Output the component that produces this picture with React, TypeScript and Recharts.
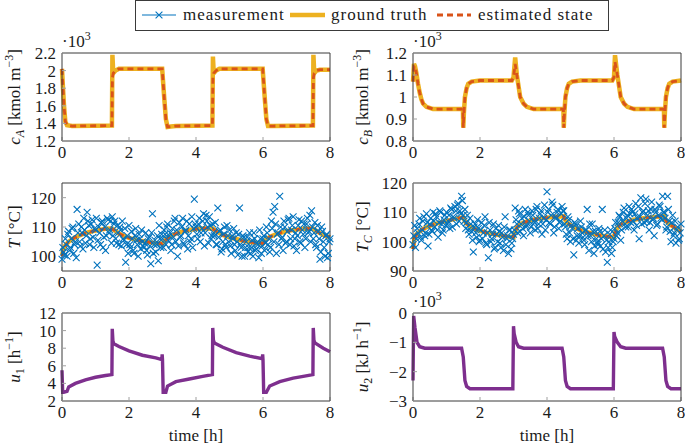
import React from 'react';
import { LineChart, Line, XAxis, YAxis } from 'recharts';

const BLUE = '#0072BD';
const GOLD = '#EDB120';
const RED = '#D95319';
const PURPLE = '#7E2F8E';
const INK = '#1a1a1a';
const FONT = "'Liberation Serif', 'Times New Roman', Times, serif";

const xTicks = [0, 2, 4, 6, 8];

// measurement grid [h]
const measTime = [
  0, 0.05, 0.1, 0.15, 0.2, 0.25, 0.3, 0.35, 0.4, 0.45,
  0.5, 0.55, 0.6, 0.65, 0.7, 0.75, 0.8, 0.85, 0.9, 0.95,
  1, 1.05, 1.1, 1.15, 1.2, 1.25, 1.3, 1.35, 1.4, 1.45,
  1.5, 1.55, 1.6, 1.65, 1.7, 1.75, 1.8, 1.85, 1.9, 1.95,
  2, 2.05, 2.1, 2.15, 2.2, 2.25, 2.3, 2.35, 2.4, 2.45,
  2.5, 2.55, 2.6, 2.65, 2.7, 2.75, 2.8, 2.85, 2.9, 2.95,
  3, 3.05, 3.1, 3.15, 3.2, 3.25, 3.3, 3.35, 3.4, 3.45,
  3.5, 3.55, 3.6, 3.65, 3.7, 3.75, 3.8, 3.85, 3.9, 3.95,
  4, 4.05, 4.1, 4.15, 4.2, 4.25, 4.3, 4.35, 4.4, 4.45,
  4.5, 4.55, 4.6, 4.65, 4.7, 4.75, 4.8, 4.85, 4.9, 4.95,
  5, 5.05, 5.1, 5.15, 5.2, 5.25, 5.3, 5.35, 5.4, 5.45,
  5.5, 5.55, 5.6, 5.65, 5.7, 5.75, 5.8, 5.85, 5.9, 5.95,
  6, 6.05, 6.1, 6.15, 6.2, 6.25, 6.3, 6.35, 6.4, 6.45,
  6.5, 6.55, 6.6, 6.65, 6.7, 6.75, 6.8, 6.85, 6.9, 6.95,
  7, 7.05, 7.1, 7.15, 7.2, 7.25, 7.3, 7.35, 7.4, 7.45,
  7.5, 7.55, 7.6, 7.65, 7.7, 7.75, 7.8, 7.85, 7.9, 7.95,
  8,
];

// in-between samples [h]
const measTime2 = [
  0.025, 0.075, 0.125, 0.175, 0.225, 0.275, 0.325, 0.375, 0.425, 0.475,
  0.525, 0.575, 0.625, 0.675, 0.725, 0.775, 0.825, 0.875, 0.925, 0.975,
  1.025, 1.075, 1.125, 1.175, 1.225, 1.275, 1.325, 1.375, 1.425, 1.475,
  1.525, 1.575, 1.625, 1.675, 1.725, 1.775, 1.825, 1.875, 1.925, 1.975,
  2.025, 2.075, 2.125, 2.175, 2.225, 2.275, 2.325, 2.375, 2.425, 2.475,
  2.525, 2.575, 2.625, 2.675, 2.725, 2.775, 2.825, 2.875, 2.925, 2.975,
  3.025, 3.075, 3.125, 3.175, 3.225, 3.275, 3.325, 3.375, 3.425, 3.475,
  3.525, 3.575, 3.625, 3.675, 3.725, 3.775, 3.825, 3.875, 3.925, 3.975,
  4.025, 4.075, 4.125, 4.175, 4.225, 4.275, 4.325, 4.375, 4.425, 4.475,
  4.525, 4.575, 4.625, 4.675, 4.725, 4.775, 4.825, 4.875, 4.925, 4.975,
  5.025, 5.075, 5.125, 5.175, 5.225, 5.275, 5.325, 5.375, 5.425, 5.475,
  5.525, 5.575, 5.625, 5.675, 5.725, 5.775, 5.825, 5.875, 5.925, 5.975,
  6.025, 6.075, 6.125, 6.175, 6.225, 6.275, 6.325, 6.375, 6.425, 6.475,
  6.525, 6.575, 6.625, 6.675, 6.725, 6.775, 6.825, 6.875, 6.925, 6.975,
  7.025, 7.075, 7.125, 7.175, 7.225, 7.275, 7.325, 7.375, 7.425, 7.475,
  7.525, 7.575, 7.625, 7.675, 7.725, 7.775, 7.825, 7.875, 7.925, 7.975,
];

const measT = [
  99, 101.5, 106, 100, 108.5, 103, 109.5, 101, 105, 116,
  111, 103.5, 108, 113, 104.5, 115, 110.5, 106, 112.5, 103,
  109, 97, 110, 104, 112, 106.5, 102, 113, 108, 112,
  113.5, 111, 106, 110.5, 104, 109, 112, 105.5, 98, 107,
  110.5, 103, 106, 101, 109.5, 104, 107.5, 102.5, 105, 103,
  108, 100.5, 106.5, 97.5, 114.5, 104, 101.5, 107, 110.5, 103,
  106, 109, 104, 111, 107, 102, 109.5, 112, 105, 100,
  111.5, 107, 113, 104, 109, 102.5, 111, 106, 103, 119.5,
  110, 106, 113, 108, 112, 103.5, 114, 110, 113.5, 106,
  111, 107, 104, 116.5, 108.5, 101.5, 105, 110, 103, 107,
  109, 101, 106, 104, 108, 100.5, 116.5, 103, 107, 100,
  105, 101.5, 108, 103, 100, 106, 102.5, 104, 109, 101,
  106, 102, 110, 104, 101.5, 112, 115, 117, 101, 108,
  120.5, 106, 102, 110, 105, 112.5, 104, 109, 113.5, 106,
  102, 110.5, 105, 112, 107.5, 103, 111, 108, 114, 115.5,
  106, 111.5, 103, 108.5, 99, 110, 105, 100, 107.5, 101,
  106,
];

const measT2 = [
  103, 100.5, 104, 107.5, 102, 106, 110, 104, 99.5, 108,
  105, 110, 102.5, 109, 107, 112, 104, 111, 106.5, 109.5,
  113, 105.5, 108, 111.5, 103, 110, 107, 112.5, 109, 104.5,
  107, 112, 104.5, 108, 110, 103.5, 106, 109.5, 104, 101,
  104, 108.5, 102, 107, 105.5, 100, 106, 109, 103.5, 104.5,
  102, 106, 103.5, 108, 101, 105.5, 104, 98.5, 106, 107.5,
  103, 107.5, 110, 105.5, 108, 104, 106.5, 113, 109, 103.5,
  106.5, 110, 104.5, 108.5, 112, 107, 105, 113.5, 109.5, 111,
  107.5, 111, 105, 109.5, 114.5, 108, 112, 104.5, 110.5, 107,
  108, 111.5, 104, 106.5, 109, 102.5, 107.5, 104, 110.5, 105,
  103.5, 107, 109.5, 102, 105, 107.5, 104, 100, 106.5, 103,
  106.5, 103, 101, 105.5, 108, 102, 104.5, 99.5, 106, 103.5,
  107, 104.5, 108, 106, 103, 109.5, 105, 111, 107.5, 104,
  110, 106.5, 112, 104.5, 108.5, 113, 106, 110.5, 103.5, 108,
  107, 112.5, 104.5, 109, 111, 106, 113, 108.5, 105, 110,
  108, 104, 110.5, 106, 101.5, 108.5, 103, 107, 99.5, 105,
];

const measTC = [
  99, 105.5, 101, 103, 108, 100.5, 107, 102, 109.5, 98.5,
  106, 104, 110, 105, 108.5, 101.5, 110.5, 106, 104, 109,
  110, 107, 104.5, 111, 108.5, 112, 106, 113, 110.5, 115.5,
  109, 111, 106.5, 104, 108, 103.5, 96.5, 106, 101.5, 104.5,
  100.5, 106.5, 103, 108.5, 99, 94.5, 104, 101, 106, 98,
  102.5, 105.5, 99.5, 103, 97, 108.5, 101, 96, 104, 99.5,
  102.5, 111.5, 106, 110.5, 103.5, 108, 102, 111, 105.5, 109,
  103, 110.5, 107, 104, 112, 106, 109.5, 102.5, 108, 104,
  117, 111, 106, 113.5, 103, 108.5, 110, 104.5, 107, 112,
  110.5, 105, 101, 107.5, 100, 104.5, 95.5, 106, 102, 99.5,
  107, 103, 100.5, 104, 111, 97, 102, 106, 96, 103.5,
  100, 104.5, 98.5, 111, 102, 96.5, 93, 100, 104, 98,
  101, 106.5, 103, 109, 100.5, 107, 111.5, 105, 109, 112,
  106.5, 110, 104, 113, 108, 101, 115, 110, 106.5, 114.5,
  109, 104, 111, 107.5, 102, 110, 106, 112.5, 108, 115.5,
  110, 104, 115.5, 107, 100, 109, 103, 99.5, 105, 101,
  106,
];

const measTC2 = [
  102, 98, 104.5, 106, 101.5, 104, 108.5, 103, 106.5, 102.5,
  108, 103.5, 107, 109.5, 104, 106.5, 110, 103, 107.5, 105.5,
  106, 109, 111.5, 105, 108, 110.5, 112.5, 107, 109.5, 114,
  107, 104.5, 109, 102.5, 106, 100.5, 105, 103, 107.5, 100,
  104, 101, 105.5, 99.5, 103, 106.5, 100, 102.5, 97.5, 104.5,
  100, 103.5, 98, 101.5, 105, 99, 102, 104, 97.5, 101,
  104, 107.5, 103, 109.5, 106, 104.5, 108.5, 105, 110, 107,
  105, 109, 106.5, 111, 104.5, 108, 110.5, 106, 112.5, 107.5,
  110, 106.5, 109, 112.5, 105, 108, 111, 106.5, 109.5, 110.5,
  106, 102.5, 108.5, 103, 105.5, 101, 106.5, 100.5, 104.5, 102,
  105, 101.5, 99, 104, 102, 106, 100, 103.5, 98.5, 101,
  99, 103.5, 101, 97.5, 104, 100.5, 98, 102.5, 96, 100,
  104.5, 102, 106.5, 108.5, 104, 110, 106, 108, 105, 109.5,
  111, 107, 109.5, 105.5, 112, 108.5, 106, 110.5, 113, 107,
  110.5, 106.5, 113.5, 108, 111, 105.5, 109, 112, 107.5, 110,
  108, 105, 111, 103.5, 106.5, 102, 107, 104, 100.5, 103,
];

// c_A  (x10^3 kmol/m3)
const cATime = [0, 0.03, 0.06, 0.1, 0.15, 0.3, 1.49, 1.505, 1.53, 1.6, 1.7, 2.99, 3.05, 3.1, 3.15, 3.25, 3.4, 4.49, 4.505, 4.53, 4.6, 4.7, 5.99, 6.05, 6.1, 6.15, 6.3, 7.49, 7.505, 7.53, 7.6, 7.7, 8];
const cATruth = [2.02, 1.8, 1.6, 1.42, 1.38, 1.37, 1.375, 2.18, 1.97, 2.0, 2.02, 2.02, 1.7, 1.45, 1.36, 1.365, 1.37, 1.375, 2.16, 1.97, 2.0, 2.02, 2.02, 1.7, 1.45, 1.37, 1.37, 1.375, 2.18, 1.97, 2.0, 2.01, 2.01];
const cAEst = [2.02, 1.8, 1.6, 1.42, 1.38, 1.37, 1.375, 1.92, 1.97, 2.0, 2.02, 2.02, 1.7, 1.45, 1.36, 1.365, 1.37, 1.375, 1.92, 1.97, 2.0, 2.02, 2.02, 1.7, 1.45, 1.37, 1.37, 1.375, 1.92, 1.97, 2.0, 2.01, 2.01];

// c_B  (x10^3 kmol/m3)
const cBTime = [0, 0.03, 0.06, 0.1, 0.15, 0.2, 0.25, 0.3, 0.4, 0.6, 1.49, 1.5, 1.52, 1.55, 1.6, 1.65, 1.75, 2.0, 2.95, 3.0, 3.05, 3.1, 3.15, 3.2, 3.3, 3.4, 3.6, 4.49, 4.5, 4.52, 4.55, 4.6, 4.65, 4.75, 5.0, 5.95, 6.0, 6.03, 6.1, 6.15, 6.2, 6.3, 6.4, 6.6, 7.49, 7.5, 7.52, 7.55, 7.6, 7.65, 7.75, 8];
const cBTruth = [1.07, 1.15, 1.14, 1.11, 1.06, 1.02, 0.99, 0.97, 0.955, 0.945, 0.945, 0.86, 0.93, 1.0, 1.04, 1.06, 1.07, 1.075, 1.075, 1.09, 1.18, 1.1, 1.05, 1.0, 0.97, 0.955, 0.945, 0.945, 0.86, 0.93, 1.0, 1.04, 1.06, 1.07, 1.075, 1.075, 1.09, 1.19, 1.1, 1.05, 1.0, 0.97, 0.955, 0.945, 0.945, 0.86, 0.93, 1.0, 1.04, 1.06, 1.07, 1.075];
const cBEst = [1.07, 1.14, 1.14, 1.11, 1.06, 1.02, 0.99, 0.97, 0.955, 0.945, 0.945, 0.86, 0.93, 1.0, 1.04, 1.06, 1.07, 1.075, 1.075, 1.09, 1.15, 1.1, 1.05, 1.0, 0.97, 0.955, 0.945, 0.945, 0.86, 0.93, 1.0, 1.04, 1.06, 1.07, 1.075, 1.075, 1.09, 1.16, 1.1, 1.05, 1.0, 0.97, 0.955, 0.945, 0.945, 0.86, 0.93, 1.0, 1.04, 1.06, 1.07, 1.075];

// T  [°C]
const TTime = [0, 0.05, 0.1, 0.2, 0.3, 0.4, 0.5, 0.6, 0.7, 0.8, 0.9, 1.0, 1.1, 1.2, 1.3, 1.4, 1.5, 1.6, 1.7, 1.8, 1.9, 2.0, 2.2, 2.4, 2.6, 2.8, 3.0, 3.1, 3.2, 3.3, 3.4, 3.6, 3.8, 4.0, 4.2, 4.4, 4.5, 4.6, 4.7, 4.8, 5.0, 5.2, 5.4, 5.6, 5.8, 6.0, 6.1, 6.2, 6.4, 6.6, 6.8, 7.0, 7.2, 7.4, 7.5, 7.6, 7.7, 7.8, 8.0];
const TTruth = [100.5, 102.5, 103.8, 105, 105.8, 106.5, 107, 107.5, 107.9, 108.2, 108.5, 108.8, 109, 109.2, 109.4, 109.5, 109.4, 108.6, 107.8, 107.2, 106.7, 106.3, 105.7, 105.2, 104.8, 104.5, 104.3, 105.8, 106.6, 107.2, 107.7, 108.5, 109, 109.3, 109.5, 109.6, 109.5, 108.6, 107.9, 107.3, 106.5, 105.9, 105.3, 104.9, 104.6, 104.4, 105.8, 106.6, 107.6, 108.3, 108.8, 109.1, 109.4, 109.5, 109.4, 108.6, 107.9, 107.3, 106.5];
const TEst = [100, 102, 103.6, 105.1, 105.9, 106.5, 107.1, 107.5, 107.9, 108.2, 108.5, 108.8, 109, 109.2, 109.4, 109.5, 109.3, 108.6, 107.8, 107.2, 106.7, 106.3, 105.7, 105.2, 104.8, 104.5, 104.3, 105.6, 106.6, 107.2, 107.7, 108.5, 109, 109.3, 109.5, 109.6, 109.4, 108.6, 107.9, 107.3, 106.5, 105.9, 105.3, 104.9, 104.6, 104.4, 105.6, 106.6, 107.6, 108.3, 108.8, 109.1, 109.4, 109.5, 109.3, 108.6, 107.9, 107.3, 106.5];

// T_C  [°C]
const TCTime = [0, 0.05, 0.1, 0.2, 0.3, 0.4, 0.5, 0.6, 0.8, 1.0, 1.2, 1.4, 1.5, 1.55, 1.6, 1.7, 1.8, 2.0, 2.2, 2.4, 2.6, 2.8, 3.0, 3.03, 3.1, 3.2, 3.3, 3.5, 3.7, 4.0, 4.2, 4.4, 4.5, 4.55, 4.6, 4.7, 4.8, 5.0, 5.2, 5.4, 5.6, 5.8, 6.0, 6.03, 6.1, 6.2, 6.3, 6.5, 6.7, 7.0, 7.2, 7.4, 7.5, 7.55, 7.6, 7.7, 7.8, 8.0];
const TCTruth = [97.5, 101.5, 102.5, 103.5, 104.3, 104.9, 105.4, 105.8, 106.5, 107.1, 107.6, 108.1, 108.3, 107, 106.2, 105.3, 104.6, 103.7, 103.1, 102.6, 102.2, 101.8, 101.5, 103, 104.8, 105.9, 106.5, 107.2, 107.7, 108.2, 108.4, 108.6, 108.7, 107.3, 106.5, 105.6, 104.9, 103.9, 103.2, 102.6, 102.1, 101.8, 101.5, 103, 104.8, 105.9, 106.5, 107.2, 107.7, 108.2, 108.4, 108.6, 108.7, 107.3, 106.5, 105.6, 104.9, 103.4];
const TCEst = [97.5, 101, 102.4, 103.5, 104.3, 104.9, 105.4, 105.8, 106.5, 107.1, 107.6, 108.1, 108.3, 107.1, 106.2, 105.3, 104.6, 103.7, 103.1, 102.6, 102.2, 101.8, 101.5, 102.8, 104.8, 105.9, 106.5, 107.2, 107.7, 108.2, 108.4, 108.6, 108.7, 107.2, 106.5, 105.6, 104.9, 103.9, 103.2, 102.6, 102.1, 101.8, 101.5, 102.8, 104.8, 105.9, 106.5, 107.2, 107.7, 108.2, 108.4, 108.6, 108.7, 107.2, 106.5, 105.6, 104.9, 103.4];

// u_1 [1/h]
const u1Time = [0, 0.02, 0.05, 0.15, 0.2, 0.4, 0.7, 1.0, 1.3, 1.49, 1.5, 1.52, 1.55, 1.7, 2.0, 2.4, 2.8, 2.98, 2.99, 3.0, 3.02, 3.1, 3.15, 3.4, 3.8, 4.2, 4.49, 4.5, 4.52, 4.55, 4.8, 5.2, 5.6, 5.98, 5.99, 6.0, 6.02, 6.1, 6.2, 6.5, 6.9, 7.2, 7.49, 7.5, 7.52, 7.55, 7.8, 8];
const u1Val = [5.5, 3.0, 3.0, 3.1, 3.6, 4.0, 4.4, 4.7, 4.9, 5.0, 10.2, 8.8, 8.5, 8.2, 7.7, 7.2, 6.9, 6.7, 7.3, 6.7, 3.0, 3.0, 3.7, 4.2, 4.5, 4.8, 5.0, 10.3, 8.9, 8.6, 8.1, 7.5, 7.1, 6.8, 7.3, 6.7, 3.0, 3.0, 3.7, 4.2, 4.6, 4.8, 5.0, 10.3, 8.9, 8.6, 8.0, 7.6];

// u_2 (x10^3 kJ/h)
const u2Time = [0, 0.02, 0.06, 0.12, 0.2, 0.35, 1.45, 1.5, 1.55, 1.6, 1.7, 2.98, 3.0, 3.02, 3.08, 3.15, 3.3, 4.45, 4.5, 4.55, 4.6, 4.7, 5.98, 6.0, 6.02, 6.1, 6.2, 6.35, 7.45, 7.5, 7.55, 7.6, 7.7, 8];
const u2Val = [-2.3, -0.1, -0.5, -1.0, -1.15, -1.2, -1.2, -1.5, -2.3, -2.5, -2.58, -2.58, -0.45, -0.7, -1.0, -1.15, -1.2, -1.2, -1.5, -2.3, -2.5, -2.58, -2.58, -0.65, -0.8, -1.0, -1.15, -1.2, -1.2, -1.5, -2.3, -2.5, -2.58, -2.58];

const pts = (t: number[], v: number[]) => t.map((x, i) => ({ t: x, v: v[i] }));

const ML = 60, MT = 8, MR = 12, MB = 30;
const PW = 268, PH = 88;
const COL = [62, 413];
const ROW = [53, 183, 313];

const axisLine = { stroke: '#3a3a3a', strokeWidth: 1 };
const tickLine = { stroke: '#a0a0a0', strokeWidth: 1 };
const tickStyle = { fill: INK, fontSize: 17, fontFamily: FONT };
const fmt = (v: number) => String(v).replace('-', '\u2212');

const renderX = (p: any) => {
  const { cx, cy, index } = p;
  if (cx == null || cy == null) return <g key={`m${index}`} />;
  const s = 3.4;
  return (
    <path
      key={`m${index}`}
      d={`M${cx - s},${cy - s}L${cx + s},${cy + s}M${cx - s},${cy + s}L${cx + s},${cy - s}`}
      stroke={BLUE}
      strokeWidth={1.1}
      fill="none"
    />
  );
};

const Panel = ({ col, row, yDomain, yTicks, children }: any) => (
  <div style={{ position: 'absolute', left: COL[col] - ML, top: ROW[row] - MT }}>
    <LineChart width={PW + ML + MR} height={PH + MT + MB} margin={{ top: MT, right: MR, bottom: 0, left: 0 }}>
      <XAxis dataKey="t" type="number" domain={[0, 8]} ticks={xTicks} interval={0} height={MB}
        axisLine={axisLine} tickLine={tickLine} tickSize={-4} tickMargin={9} tick={tickStyle} />
      <XAxis xAxisId="top" orientation="top" type="number" domain={[0, 8]} ticks={xTicks} interval={0}
        mirror tick={false} tickSize={4} axisLine={axisLine} tickLine={tickLine} />
      <YAxis type="number" domain={yDomain} ticks={yTicks} interval={0} width={ML} allowDataOverflow
        axisLine={axisLine} tickLine={tickLine} tickSize={-4} tickMargin={10} tick={tickStyle} tickFormatter={fmt} />
      <YAxis yAxisId="right" orientation="right" type="number" domain={yDomain} ticks={yTicks} interval={0}
        mirror tick={false} tickSize={4} axisLine={axisLine} tickLine={tickLine} />
      {children}
    </LineChart>
  </div>
);

const stateLines = (truth: any[], est: any[]) => [
  <Line key="gt" data={truth} dataKey="v" type="linear" stroke={GOLD} strokeWidth={4.5} dot={false} activeDot={false} isAnimationActive={false} />,
  <Line key="es" data={est} dataKey="v" type="linear" stroke={RED} strokeWidth={2.8} strokeDasharray="6 4" dot={false} activeDot={false} isAnimationActive={false} />,
];

const measLine = (data: any[]) => (
  <Line key="ms" data={data} dataKey="v" type="linear" stroke="none" dot={renderX} activeDot={false} isAnimationActive={false} />
);

const YLabel = ({ x, cy, children }: any) => (
  <text transform={`translate(${x},${cy}) rotate(-90)`} textAnchor="middle" fontSize={17} fill={INK}>
    {children}
  </text>
);

const Exp = ({ x, y }: any) => (
  <text x={x} y={y} fontSize={17} fill={INK}>
    {'\u00b710'}
    <tspan dy={-7} fontSize={12}>3</tspan>
  </text>
);

export default function App() {
  const mid = (r: number) => ROW[r] + PH / 2;
  const allTime = measTime.concat(measTime2);
  return (
    <div style={{ position: 'absolute', left: 0, top: 0, width: 685, height: 445, background: '#fff', fontFamily: FONT }}>
      <Panel col={0} row={0} yDomain={[1.2, 2.2]} yTicks={[1.2, 1.4, 1.6, 1.8, 2, 2.2]}>
        {stateLines(pts(cATime, cATruth), pts(cATime, cAEst))}
      </Panel>
      <Panel col={1} row={0} yDomain={[0.8, 1.2]} yTicks={[0.8, 0.9, 1, 1.1, 1.2]}>
        {stateLines(pts(cBTime, cBTruth), pts(cBTime, cBEst))}
      </Panel>
      <Panel col={0} row={1} yDomain={[95, 125]} yTicks={[100, 110, 120]}>
        {measLine(pts(allTime, measT.concat(measT2)))}
        {stateLines(pts(TTime, TTruth), pts(TTime, TEst))}
      </Panel>
      <Panel col={1} row={1} yDomain={[90, 120]} yTicks={[90, 100, 110, 120]}>
        {measLine(pts(allTime, measTC.concat(measTC2)))}
        {stateLines(pts(TCTime, TCTruth), pts(TCTime, TCEst))}
      </Panel>
      <Panel col={0} row={2} yDomain={[2, 12]} yTicks={[2, 4, 6, 8, 10, 12]}>
        <Line data={pts(u1Time, u1Val)} dataKey="v" type="linear" stroke={PURPLE} strokeWidth={3.4} dot={false} activeDot={false} isAnimationActive={false} />
      </Panel>
      <Panel col={1} row={2} yDomain={[-3, 0]} yTicks={[-3, -2, -1, 0]}>
        <Line data={pts(u2Time, u2Val)} dataKey="v" type="linear" stroke={PURPLE} strokeWidth={3.4} dot={false} activeDot={false} isAnimationActive={false} />
      </Panel>

      <svg width={685} height={445} style={{ position: 'absolute', left: 0, top: 0, pointerEvents: 'none' }} fontFamily={FONT}>
        {/* legend */}
        <rect x={135.5} y={0.5} width={473} height={30} fill="#fff" stroke="#3a3a3a" />
        <line x1={142} y1={15} x2={176} y2={15} stroke={BLUE} strokeWidth={1.1} />
        <path d="M155.6,11.6L162.4,18.4M155.6,18.4L162.4,11.6" stroke={BLUE} strokeWidth={1.1} />
        <text x={183} y={20} fontSize={17} fill={INK} letterSpacing={1}>measurement</text>
        <line x1={290} y1={15} x2={325} y2={15} stroke={GOLD} strokeWidth={4.5} />
        <text x={331} y={20} fontSize={17} fill={INK} letterSpacing={1}>ground truth</text>
        <line x1={437} y1={15} x2={471} y2={15} stroke={RED} strokeWidth={2.8} strokeDasharray="6 4" />
        <text x={478} y={20} fontSize={17} fill={INK} letterSpacing={1}>estimated state</text>

        {/* exponent markers */}
        <Exp x={62} y={47} />
        <Exp x={413} y={47} />
        <Exp x={413} y={307} />

        {/* y-axis titles */}
        <YLabel x={20} cy={mid(0)}>
          <tspan fontStyle="italic">c</tspan>
          <tspan dy={4} fontSize={12} fontStyle="italic">A</tspan>
          <tspan dy={-4}> [kmol m</tspan>
          <tspan dy={-7} fontSize={12}>{'\u22123'}</tspan>
          <tspan dy={7}>]</tspan>
        </YLabel>
        <YLabel x={368} cy={mid(0)}>
          <tspan fontStyle="italic">c</tspan>
          <tspan dy={4} fontSize={12} fontStyle="italic">B</tspan>
          <tspan dy={-4}> [kmol m</tspan>
          <tspan dy={-7} fontSize={12}>{'\u22123'}</tspan>
          <tspan dy={7}>]</tspan>
        </YLabel>
        <YLabel x={20} cy={mid(1)}>
          <tspan fontStyle="italic">T</tspan>
          <tspan> [°C]</tspan>
        </YLabel>
        <YLabel x={368} cy={mid(1)}>
          <tspan fontStyle="italic">T</tspan>
          <tspan dy={4} fontSize={12} fontStyle="italic">C</tspan>
          <tspan dy={-4}> [°C]</tspan>
        </YLabel>
        <YLabel x={20} cy={mid(2)}>
          <tspan fontStyle="italic">u</tspan>
          <tspan dy={4} fontSize={12}>1</tspan>
          <tspan dy={-4}> [h</tspan>
          <tspan dy={-7} fontSize={12}>{'\u22121'}</tspan>
          <tspan dy={7}>]</tspan>
        </YLabel>
        <YLabel x={368} cy={mid(2)}>
          <tspan fontStyle="italic">u</tspan>
          <tspan dy={4} fontSize={12}>2</tspan>
          <tspan dy={-4}> [kJ h</tspan>
          <tspan dy={-7} fontSize={12}>{'\u22121'}</tspan>
          <tspan dy={7}>]</tspan>
        </YLabel>

        {/* x-axis titles */}
        <text x={COL[0] + PW / 2} y={441} textAnchor="middle" fontSize={17} fill={INK}>time [h]</text>
        <text x={COL[1] + PW / 2} y={441} textAnchor="middle" fontSize={17} fill={INK}>time [h]</text>
      </svg>
    </div>
  );
}
